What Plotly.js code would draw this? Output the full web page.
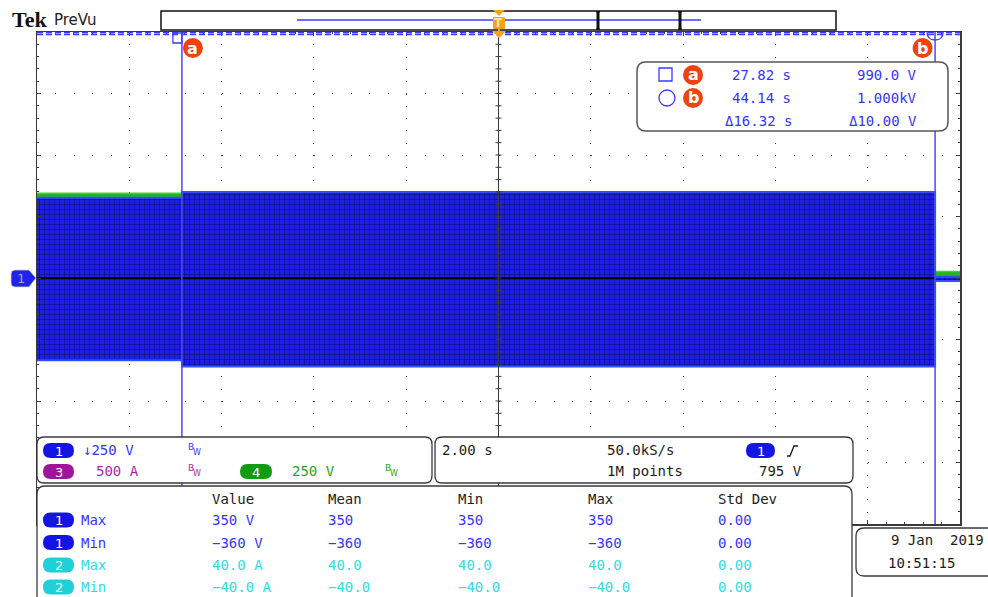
<!DOCTYPE html>
<html>
<head>
<meta charset="utf-8">
<script src="https://cdn.plot.ly/plotly-3.0.1.min.js"></script>
<style>
  html, body { margin: 0; padding: 0; background: #ffffff; }
  #scope { width: 988px; height: 597px; }
</style>
</head>
<body>
<div id="scope"></div>
<script>
// ---- acquisition settings ----
const secPerDiv = 2.00;          // horizontal scale
const voltsPerDiv = 250;         // channel 1 vertical scale
const windowStart = 24.68;       // time at left graticule edge (s)
const sampleRate = '50.0kS/s';
const recordLength = '1M points';
const triggerLevel = 795;        // V
const ch3Scale = '500 A';
const ch4Scale = '250 V';

// ---- channel 1 envelope (V) ----
const ch1Time = [24.68, 27.82, 27.82, 44.14, 44.14, 44.68];
const ch1Max  = [326, 326, 350, 350, 5, 5];
const ch1Min  = [-334, -334, -360, -360, -12, -12];

// ---- channel 1 mid trace (V) ----
const ch1MidTime = [24.68, 44.14];
const ch1MidV    = [0, 0];

// ---- channel 4 envelope (V) ----
const ch4Time = [24.68, 44.14, 44.14, 44.68];
const ch4Max  = [345, 345, 26, 26];
const ch4Min  = [300, 300, 5, 5];

// ---- cursors ----
const cursorT = [27.82, 44.14];   // s
const cursorV = [990.0, 1000.0];  // V

// ---- measurement table ----
const measHeads = ['Value', 'Mean', 'Min', 'Max', 'Std Dev'];
const measChan  = ['1', '1', '2', '2'];
const measKind  = ['Max', 'Min', 'Max', 'Min'];
const measUnit  = ['V', 'V', 'A', 'A'];
const measDec   = [0, 0, 1, 1];
const measValue = [350, -360, 40.0, -40.0];
const measMean  = [350, -360, 40.0, -40.0];
const measMin   = [350, -360, 40.0, -40.0];
const measMax   = [350, -360, 40.0, -40.0];
const measStd   = [0.00, 0.00, 0.00, 0.00];

// ---- date stamp ----
const stampDate = '9 Jan  2019';
const stampTime = '10:51:15';

// ---------------------------------------------------------------
const MONO = 'DejaVu Sans Mono';
const BLUE_TXT = '#3535ff', BLUE_PILL = '#1414e4';
const CYAN_TXT = '#2fdde3', CYAN_PILL = '#1fd0d6';
const PURP_TXT = '#b01fb0', PURP_PILL = '#9e159c';
const GRN_TXT = '#1fa51f', GRN_PILL = '#139c13';
const DARK = '#1c1c1c';
const ORANGE = '#f0420e';
const AMBER = '#f4a21c';

// screen layout: graticule box in page pixels
const L = 37, R = 960, T = 32, B = 524;
const px = x => (x - L) / (R - L);
const py = y => (B - y) / (B - T);

const shapes = [];
const annotations = [];

function P(x, y) { return px(x) + ',' + py(y); }
function rrectPath(x0, y0, x1, y1, r) {
  return 'M' + P(x0 + r, y0) + ' L' + P(x1 - r, y0) + ' Q' + P(x1, y0) + ' ' + P(x1, y0 + r) +
         ' L' + P(x1, y1 - r) + ' Q' + P(x1, y1) + ' ' + P(x1 - r, y1) +
         ' L' + P(x0 + r, y1) + ' Q' + P(x0, y1) + ' ' + P(x0, y1 - r) +
         ' L' + P(x0, y0 + r) + ' Q' + P(x0, y0) + ' ' + P(x0 + r, y0) + ' Z';
}
function box(x0, y0, x1, y1, r, fill, lineColor, lw) {
  shapes.push({ type: 'path', xref: 'paper', yref: 'paper', path: rrectPath(x0, y0, x1, y1, r),
    fillcolor: fill, line: { color: lineColor || 'rgba(0,0,0,0)', width: lw || 0 }, layer: 'above' });
}
function poly(pts, fill) {
  const d = 'M' + pts.map(p => P(p[0], p[1])).join(' L') + ' Z';
  shapes.push({ type: 'path', xref: 'paper', yref: 'paper', path: d, fillcolor: fill,
    line: { width: 0, color: 'rgba(0,0,0,0)' }, layer: 'above' });
}
function seg(x0, y0, x1, y1, color, w, dash) {
  shapes.push({ type: 'line', xref: 'paper', yref: 'paper', x0: px(x0), y0: py(y0), x1: px(x1), y1: py(y1),
    line: { color: color, width: w, dash: dash || 'solid' }, layer: 'above' });
}
function label(x, y, text, color, opt) {
  opt = opt || {};
  annotations.push({ xref: 'paper', yref: 'paper', x: px(x), y: py(y), text: text, showarrow: false,
    xanchor: opt.anchor || 'left', yanchor: 'middle', borderpad: 0,
    font: { family: opt.family || MONO, size: opt.size || 14, color: color, weight: opt.weight || 'normal' } });
}
function pill(x0, y0, x1, y1, fill, txt) {
  box(x0, y0, x1, y1, (y1 - y0) / 2, fill);
  label((x0 + x1) / 2, (y0 + y1) / 2 + 0.5, txt, '#ffffff', { anchor: 'center', family: 'DejaVu Sans', size: 13 });
}
function bw(x, y, color) {
  label(x, y - 3, 'B', color, { family: 'DejaVu Sans', size: 9 });
  label(x + 5, y + 2, 'W', color, { family: 'DejaVu Sans', size: 8 });
}
const minus = s => s.replace('-', '\u2212');
function fmt4(v) {
  const a = Math.abs(v);
  if (a >= 1000) return (v / 1000).toFixed(3) + 'kV';
  if (a >= 100) return v.toFixed(1) + ' V';
  return v.toFixed(2) + ' V';
}

const tCenter = windowStart + 5 * secPerDiv;

// ---- graticule centre cross ----
shapes.push({ type: 'line', xref: 'x', yref: 'paper', x0: tCenter, x1: tCenter, y0: 0, y1: 1,
  line: { color: '#3a3a3a', width: 1 }, layer: 'above' });
for (let k = -20; k <= 20; k++) {
  const v = k * voltsPerDiv / 5;
  shapes.push({ type: 'line', xref: 'x', xsizemode: 'pixel', xanchor: tCenter, x0: -3, x1: 3,
    yref: 'y', y0: v, y1: v, line: { color: '#3a3a3a', width: 1 }, layer: 'above' });
}
for (let k = 1; k < 50; k++) {
  const t = windowStart + k * secPerDiv / 5;
  shapes.push({ type: 'line', yref: 'y', ysizemode: 'pixel', yanchor: 0, y0: -3, y1: 3,
    xref: 'x', x0: t, x1: t, line: { color: '#3a3a3a', width: 1 }, layer: 'below' });
}

// ---- horizontal cursors ----
cursorV.forEach(v => {
  shapes.push({ type: 'line', xref: 'paper', yref: 'y', x0: 0, x1: 1, y0: v, y1: v,
    line: { color: '#3a3aff', width: 1.8, dash: '6px,3px' }, layer: 'above' });
});
// ---- vertical cursors ----
cursorT.forEach(t => {
  shapes.push({ type: 'line', xref: 'x', yref: 'paper', x0: t, x1: t, y0: 0, y1: 1,
    line: { color: '#4848ff', width: 1.5 }, layer: 'above' });
});
// cursor a: square handle
shapes.push({ type: 'rect', xref: 'x', xsizemode: 'pixel', xanchor: cursorT[0], x0: -9, x1: 0,
  yref: 'paper', ysizemode: 'pixel', yanchor: 1, y0: -1, y1: -11,
  line: { color: '#3a3aff', width: 1.3 }, fillcolor: 'rgba(0,0,0,0)', layer: 'above' });
// cursor b: round handle
shapes.push({ type: 'path', xref: 'x', xsizemode: 'pixel', xanchor: cursorT[1],
  yref: 'paper', ysizemode: 'pixel', yanchor: 1,
  path: 'M-8,0 Q-8,-8 0,-8 Q8,-8 8,0',
  line: { color: '#3a3aff', width: 1.3 }, layer: 'above' });
// orange cursor badges
[[cursorT[0], 1, 21, 'a'], [cursorT[1], -22.5, -2.5, 'b']].forEach(c => {
  shapes.push({ type: 'circle', xref: 'x', xsizemode: 'pixel', xanchor: c[0], x0: c[1], x1: c[2],
    yref: 'paper', ysizemode: 'pixel', yanchor: 1, y0: -6, y1: -26,
    fillcolor: ORANGE, line: { width: 0, color: ORANGE }, layer: 'above' });
  annotations.push({ xref: 'x', x: c[0], xshift: (c[1] + c[2]) / 2, yref: 'paper', y: 1, yshift: -16.5,
    text: c[3], showarrow: false, xanchor: 'center', yanchor: 'middle',
    font: { family: 'DejaVu Sans', size: 16, color: '#ffffff', weight: 'bold' } });
});

// ---- record view bar ----
box(161, 11, 836, 30, 0, '#ffffff', '#111111', 1.5);
seg(297, 20, 701, 20, '#3b3bff', 1.5);
[598, 680].forEach(x => {
  seg(x, 11, x, 30, '#111111', 3);
  seg(x - 2, 12, x + 2, 12, '#111111', 1);
  seg(x - 2, 29, x + 2, 29, '#111111', 1);
});
// trigger position marker
poly([[493, 10], [505, 10], [499, 16]], AMBER);
box(493, 17, 505, 29, 1, AMBER);
label(499, 23, 'T', '#fde6b0', { anchor: 'center', family: 'DejaVu Sans', size: 12, weight: 'bold' });
poly([[492, 31], [506, 31], [499, 38]], AMBER);
seg(499, 28, 499, 33, AMBER, 2);

// ---- header ----
label(11, 19.5, 'Tek', '#111111', { family: 'Liberation Serif', size: 22, weight: 'bold' });
label(53, 19.5, 'PreVu', '#222222', { family: 'DejaVu Sans', size: 15 });

// ---- channel 1 ground marker ----
shapes.push({ type: 'path', xref: 'paper', yref: 'paper',
  path: 'M' + P(15, 270) + ' L' + P(29, 270) + ' L' + P(36, 278) + ' L' + P(29, 287) + ' L' + P(15, 287) +
        ' Q' + P(11, 287) + ' ' + P(11, 283) + ' L' + P(11, 274) + ' Q' + P(11, 270) + ' ' + P(15, 270) + ' Z',
  fillcolor: '#2222f0', line: { color: '#d8d890', width: 0.8 }, layer: 'above' });
label(21, 278.5, '1', '#a6a6a6', { anchor: 'center', family: 'DejaVu Sans', size: 13 });

// ---- cursor readout ----
box(637, 62, 948, 131, 9, '#ffffff', '#555555', 1.5);
shapes.push({ type: 'rect', xref: 'paper', yref: 'paper', x0: px(659), x1: px(672), y0: py(68), y1: py(81),
  line: { color: '#3a3aff', width: 1.3 }, fillcolor: 'rgba(0,0,0,0)', layer: 'above' });
shapes.push({ type: 'circle', xref: 'paper', yref: 'paper', x0: px(659), x1: px(675), y0: py(90), y1: py(106),
  line: { color: '#3a3aff', width: 1.3 }, fillcolor: 'rgba(0,0,0,0)', layer: 'above' });
[[75, 'a'], [98, 'b']].forEach(r => {
  shapes.push({ type: 'circle', xref: 'paper', yref: 'paper', x0: px(683), x1: px(703), y0: py(r[0] - 10), y1: py(r[0] + 10),
    fillcolor: ORANGE, line: { width: 0, color: ORANGE }, layer: 'above' });
  label(693, r[0] - 0.5, r[1], '#ffffff', { anchor: 'center', family: 'DejaVu Sans', size: 16, weight: 'bold' });
});
label(731, 75, cursorT[0].toFixed(2) + ' s', BLUE_TXT);
label(731, 98, cursorT[1].toFixed(2) + ' s', BLUE_TXT);
label(724, 121, '\u0394' + (cursorT[1] - cursorT[0]).toFixed(2) + ' s', BLUE_TXT);
label(918, 75, fmt4(cursorV[0]), BLUE_TXT, { anchor: 'right' });
label(918, 98, fmt4(cursorV[1]), BLUE_TXT, { anchor: 'right' });
label(918, 121, '\u0394' + fmt4(cursorV[1] - cursorV[0]), BLUE_TXT, { anchor: 'right' });

// ---- channel panel ----
box(37, 437, 432, 483, 7, '#ffffff', '#3a3a3a', 1.3);
pill(43, 443, 74, 458, BLUE_PILL, '1');
label(82, 450, '\u2193' + voltsPerDiv + ' V', BLUE_TXT);
bw(187, 450, BLUE_TXT);
pill(43, 464, 74, 479, PURP_PILL, '3');
label(95, 471, ch3Scale, PURP_TXT);
bw(187, 471, PURP_TXT);
pill(240, 464, 272, 479, GRN_PILL, '4');
label(291, 471, ch4Scale, GRN_TXT);
bw(384, 471, GRN_TXT);

// ---- timebase / trigger panel ----
box(435, 437, 853, 483, 7, '#ffffff', '#3a3a3a', 1.3);
label(441, 450, secPerDiv.toFixed(2) + ' s', DARK);
label(606, 450, sampleRate, DARK);
label(606, 471, recordLength, DARK);
pill(746, 443, 775, 458, BLUE_PILL, '1');
shapes.push({ type: 'path', xref: 'paper', yref: 'paper',
  path: 'M' + P(787, 456) + ' L' + P(790, 456) + ' L' + P(794, 446) + ' L' + P(798, 446),
  line: { color: DARK, width: 1.3 }, layer: 'above' });
label(758, 471, triggerLevel + ' V', DARK);

// ---- measurement panel ----
box(37, 486, 852, 640, 8, '#ffffff', '#3a3a3a', 1.3);
const colX = [211, 327, 457, 587, 717];
measHeads.forEach((h, i) => label(colX[i], 498.5, h, DARK));
const rowY = [520, 542.5, 565, 587];
measChan.forEach((c, r) => {
  const txt = c === '1' ? BLUE_TXT : CYAN_TXT;
  const fill = c === '1' ? BLUE_PILL : CYAN_PILL;
  const y = rowY[r];
  pill(43, y - 7.5, 74, y + 7.5, fill, c);
  label(80, y, measKind[r], txt);
  const f = v => minus(v.toFixed(measDec[r]));
  label(colX[0], y, f(measValue[r]) + ' ' + measUnit[r], txt);
  label(colX[1], y, f(measMean[r]), txt);
  label(colX[2], y, f(measMin[r]), txt);
  label(colX[3], y, f(measMax[r]), txt);
  label(colX[4], y, measStd[r].toFixed(2), txt);
});

// ---- date stamp ----
box(856, 528, 998, 576, 8, '#ffffff', '#3a3a3a', 1.3);
label(985, 540, stampDate, DARK, { anchor: 'right' });
label(887, 563, stampTime, DARK);

// ---------------------------------------------------------------
const traces = [
  { x: ch4Time, y: ch4Min, mode: 'lines', line: { width: 0, color: '#20b020' }, hoverinfo: 'skip' },
  { x: ch4Time, y: ch4Max, mode: 'lines', fill: 'tonexty', fillcolor: '#22b422',
    line: { color: '#3ad43a', width: 1.5 }, hoverinfo: 'skip' },
  { x: ch1Time, y: ch1Min, mode: 'lines', line: { color: '#3050ff', width: 2 }, hoverinfo: 'skip' },
  { x: ch1Time, y: ch1Max, mode: 'lines', fill: 'tonexty', fillcolor: '#1c1ce0',
    fillpattern: { shape: '+', bgcolor: '#1f1fe4', fgcolor: '#0c0c78', size: 5, solidity: 0.22 },
    line: { color: '#3050ff', width: 2 }, hoverinfo: 'skip' },
  { x: ch1MidTime, y: ch1MidV, mode: 'lines', line: { color: '#050505', width: 2 }, hoverinfo: 'skip' }
];

const axisCommon = {
  showticklabels: false, zeroline: false, showline: true, linecolor: '#3a3a3a', linewidth: 1.5,
  mirror: 'ticks', ticks: 'inside', ticklen: 4, tickcolor: '#3a3a3a', tickwidth: 1,
  showgrid: true, gridcolor: '#3a3a3a', gridwidth: 1, fixedrange: true
};

const layout = {
  width: 988, height: 597,
  margin: { l: L, r: 988 - R, t: T, b: 597 - B, pad: 0 },
  paper_bgcolor: '#ffffff', plot_bgcolor: '#ffffff',
  showlegend: false,
  xaxis: Object.assign({}, axisCommon, {
    range: [windowStart, windowStart + 10 * secPerDiv], tick0: windowStart, dtick: secPerDiv,
    griddash: '1px,11.3px',
    minor: { tick0: windowStart, dtick: secPerDiv / 5, ticks: 'inside', ticklen: 2, tickcolor: '#3a3a3a', showgrid: false }
  }),
  yaxis: Object.assign({}, axisCommon, {
    range: [-4 * voltsPerDiv, 4 * voltsPerDiv], tick0: 0, dtick: voltsPerDiv,
    griddash: '1px,17.46px',
    minor: { tick0: 0, dtick: voltsPerDiv / 5, ticks: 'inside', ticklen: 2, tickcolor: '#3a3a3a', showgrid: false }
  }),
  shapes: shapes,
  annotations: annotations
};

Plotly.newPlot('scope', traces, layout, { displayModeBar: false, staticPlot: true });
</script>
</body>
</html>
